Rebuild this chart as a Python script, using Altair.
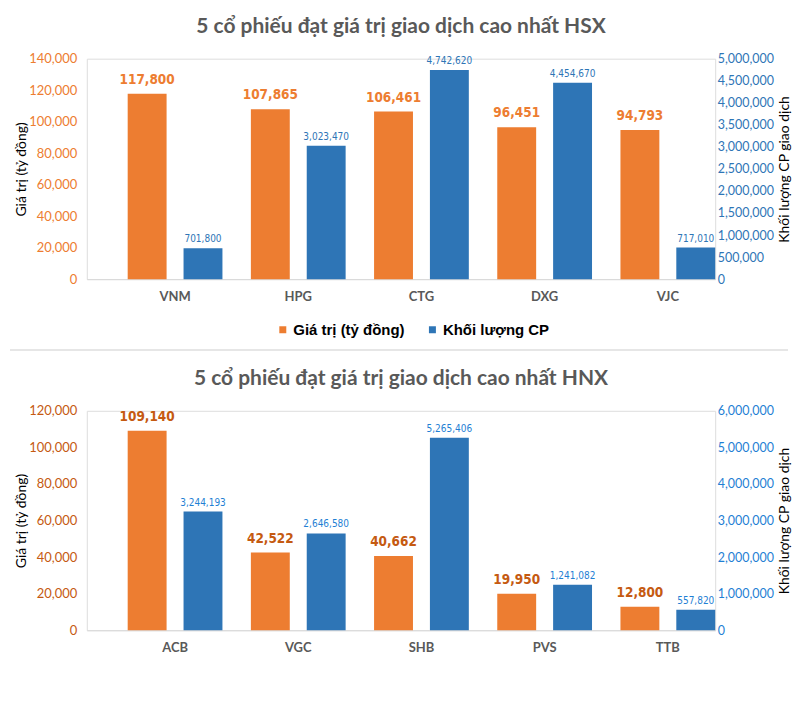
import altair as alt
import pandas as pd

SER_VAL = "Giá trị (tỷ đồng)"
SER_VOL = "Khối lượng CP"
SERIES = [SER_VAL, SER_VOL]

# HSX
hsx_tickers = ["VNM", "HPG", "CTG", "DXG", "VJC"]
hsx_values = [117800, 107865, 106461, 96451, 94793]
hsx_volumes = [701800, 3023470, 4742620, 4454670, 717010]

# HNX
hnx_tickers = ["ACB", "VGC", "SHB", "PVS", "TTB"]
hnx_values = [109140, 42522, 40662, 19950, 12800]
hnx_volumes = [3244193, 2646580, 5265406, 1241082, 557820]

ORANGE = "#ED7D31"
BLUE = "#2E75B6"
NARROW = "Liberation Sans Narrow, Arial Narrow, DejaVu Sans Condensed, sans-serif"


def panel(title, tickers, values, volumes, lmax, lstep, rmax, rstep,
          ltick_col, rtick_col, lab_col, vlab_col, height, separator=False):
    df_val = pd.DataFrame({"ticker": tickers, "series": SER_VAL, "value": values})
    df_vol = pd.DataFrame({"ticker": tickers, "series": SER_VOL, "value": volumes})

    x = alt.X("ticker:N", sort=tickers,
              scale=alt.Scale(paddingInner=0.231, paddingOuter=0.166, align=1),
              axis=alt.Axis(title=None, labelAngle=0, ticks=False, domainColor="#D9D9D9",
                            domainWidth=1, labelFont="Lato", labelFontWeight="bold",
                            labelFontSize=13, labelColor="#595959", labelPadding=11))
    xo = alt.XOffset("series:N", sort=SERIES,
                     scale=alt.Scale(domain=SERIES, paddingInner=0.304, paddingOuter=0))
    color = alt.Color("series:N",
                      scale=alt.Scale(domain=SERIES, range=[ORANGE, BLUE]),
                      legend=alt.Legend(title=None, orient="none", legendX=189, legendY=264,
                                        direction="horizontal", symbolType="square",
                                        symbolSize=49, symbolStrokeWidth=0,
                                        labelFont="Liberation Sans", labelFontWeight="bold",
                                        labelFontSize=15, labelColor="#000000",
                                        columnPadding=20, labelOffset=3))

    yl = alt.Y("value:Q", scale=alt.Scale(domain=[0, lmax], nice=False),
               axis=alt.Axis(orient="left", values=list(range(0, lmax + 1, lstep)), format=",.0f",
                             title="Giá trị (tỷ đồng)", grid=False, ticks=False, domain=False,
                             labelFont="Lato", labelFontSize=13, labelColor=ltick_col,
                             labelPadding=10, titleFont="Lato", titleFontSize=14,
                             titleFontWeight="normal", titleColor="#000000", titlePadding=0,
                             labelOverlap=False))
    yr = alt.Y("value:Q", scale=alt.Scale(domain=[0, rmax], nice=False),
               axis=alt.Axis(orient="right", values=list(range(0, rmax + 1, rstep)), format=",.0f",
                             title="Khối lượng CP giao dịch", grid=False, ticks=False, domain=False,
                             labelFont="Lato", labelFontSize=12.5, labelColor=rtick_col,
                             labelPadding=2, titleFont="Lato", titleFontSize=14,
                             titleFontWeight="normal", titleColor="#000000", titlePadding=4,
                             titleAngle=270, titleBaseline="top",
                             labelOverlap=False))

    b1 = alt.Chart(df_val).mark_bar(size=39).encode(x=x, xOffset=xo, y=yl, color=color)
    t1 = alt.Chart(df_val).mark_text(dy=-10, baseline="alphabetic", font=NARROW,
                                     fontWeight="bold", fontSize=13.5, color=lab_col).encode(
        x=x, xOffset=xo, y=yl, text=alt.Text("value:Q", format=",.0f"))
    b2 = alt.Chart(df_vol).mark_bar(size=39).encode(x=x, xOffset=xo, y=yr, color=color)
    t2 = alt.Chart(df_vol).mark_text(dy=-6, baseline="alphabetic", font=NARROW,
                                     fontSize=10, color=vlab_col).encode(
        x=x, xOffset=xo, y=yr, text=alt.Text("value:Q", format=",.0f"))

    left = alt.layer(b1, t1)
    right = alt.layer(b2, t2)
    layers = [left, right]
    if separator:
        sep = alt.Chart(df_val).mark_rule(color="#E6E6E6", strokeWidth=2).encode(
            x=alt.value(-77), x2=alt.value(703), y=alt.value(292))
        layers.append(sep)
    ch = alt.layer(*layers).resolve_scale(y="independent").properties(
        width=630, height=height,
        title=alt.TitleParams(title, font="Lato", fontSize=21, fontWeight="bold",
                              color="#595959", anchor="middle", offset=16))
    return ch


top = panel("5 cổ phiếu đạt giá trị giao dịch cao nhất HSX", hsx_tickers, hsx_values, hsx_volumes,
            140000, 20000, 5000000, 500000, "#ED7D31", "#2E75B6", "#ED7D31", "#2E75B6", 221,
            separator=True)
bottom = panel("5 cổ phiếu đạt giá trị giao dịch cao nhất HNX", hnx_tickers, hnx_values, hnx_volumes,
               120000, 20000, 6000000, 1000000, "#C55A11", "#1F7FD4", "#C55A11", "#1F7FD4", 220)

chart = alt.vconcat(top, bottom, spacing=15).properties(
    padding={"left": 0, "top": 6, "right": 0, "bottom": 0}
).configure_view(stroke=None).configure(background="white")

chart.save("out.html", embed_options={"renderer": "svg", "actions": False})
